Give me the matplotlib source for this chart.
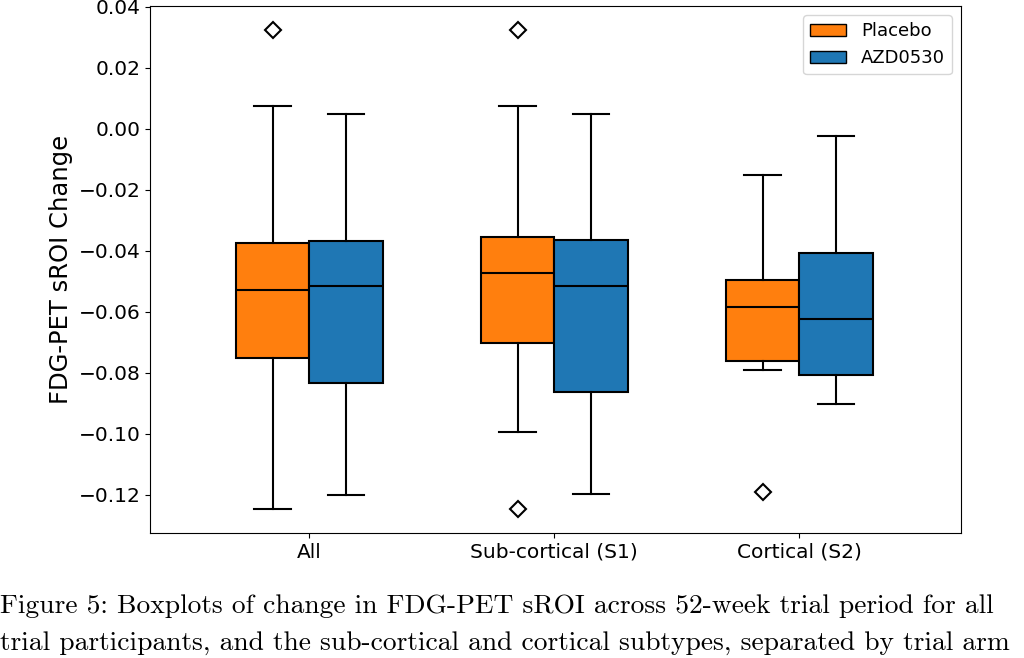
import numpy as np
import matplotlib
matplotlib.use('Agg')
import matplotlib.pyplot as plt
from matplotlib.patches import Patch

groups = ['All', 'Sub-cortical (S1)', 'Cortical (S2)']
arms = ['Placebo', 'AZD0530']
colors = ['#ff7f0e', '#1f77b4']

# box stats, one list per arm, in group order
placebo_whislo = [-0.1246, -0.0996, -0.0792]
placebo_q1 = [-0.0751, -0.0704, -0.0762]
placebo_med = [-0.0528, -0.0474, -0.0585]
placebo_q3 = [-0.0374, -0.0356, -0.0496]
placebo_whishi = [0.0076, 0.0076, -0.0151]
placebo_fliers = [[0.0325], [0.0325, -0.1247], [-0.1193]]

azd_whislo = [-0.1200, -0.1199, -0.0902]
azd_q1 = [-0.0833, -0.0864, -0.0808]
azd_med = [-0.0517, -0.0516, -0.0623]
azd_q3 = [-0.0368, -0.0364, -0.0406]
azd_whishi = [0.0050, 0.0050, -0.0023]
azd_fliers = [[], [], []]

caption_lines = ["Figure 5: Boxplots of change in FDG-PET sROI across 52-week trial period for all",
                 "trial participants, and the sub-cortical and cortical subtypes, separated by trial arm"]


def make_stats(lo, q1, med, q3, hi, fl):
    out = []
    for i in range(len(lo)):
        out.append(dict(whislo=lo[i], q1=q1[i], med=med[i], q3=q3[i],
                        whishi=hi[i], fliers=fl[i]))
    return out


def main():
    fig = plt.figure(figsize=(10.24, 6.58), dpi=100)
    ax = fig.add_axes([0.1465, 0.19, 0.792, 0.801])

    stats = [make_stats(placebo_whislo, placebo_q1, placebo_med, placebo_q3, placebo_whishi, placebo_fliers),
             make_stats(azd_whislo, azd_q1, azd_med, azd_q3, azd_whishi, azd_fliers)]

    x = np.arange(len(groups))
    width = 0.30
    offsets = [-width / 2, width / 2]
    lw = 1.5

    for k in range(len(arms)):
        ax.bxp(stats[k], positions=x + offsets[k], widths=width, patch_artist=True,
               boxprops=dict(facecolor=colors[k], edgecolor='black', linewidth=lw),
               medianprops=dict(color='black', linewidth=lw),
               whiskerprops=dict(color='black', linewidth=lw),
               capprops=dict(color='black', linewidth=lw),
               flierprops=dict(marker='D', markerfacecolor='white', markeredgecolor='black',
                               markersize=8, markeredgewidth=1.5),
               manage_ticks=False)

    ax.set_xticks(x)
    ax.set_xticklabels(groups, fontsize=14.5)
    ax.tick_params(axis='y', labelsize=14.5)
    ax.set_xlim(-0.65, 2.66)
    ax.set_ylim(-0.1326, 0.0403)
    ax.set_yticks(np.arange(-0.12, 0.041, 0.02))
    ax.set_ylabel('FDG-PET sROI Change', fontsize=17.5)

    handles = [Patch(facecolor=colors[k], edgecolor='black', label=arms[k]) for k in range(len(arms))]
    ax.legend(handles=handles, loc='upper right', fontsize=13)

    # caption as two lines at fixed baselines
    for i, line in enumerate(caption_lines):
        fig.text(0.0, 0.0679 - i * 0.0547, line, fontsize=19.8, family='cmr10',
                 ha='left', va='baseline')

    fig.savefig('out.png', dpi=100)


main()
